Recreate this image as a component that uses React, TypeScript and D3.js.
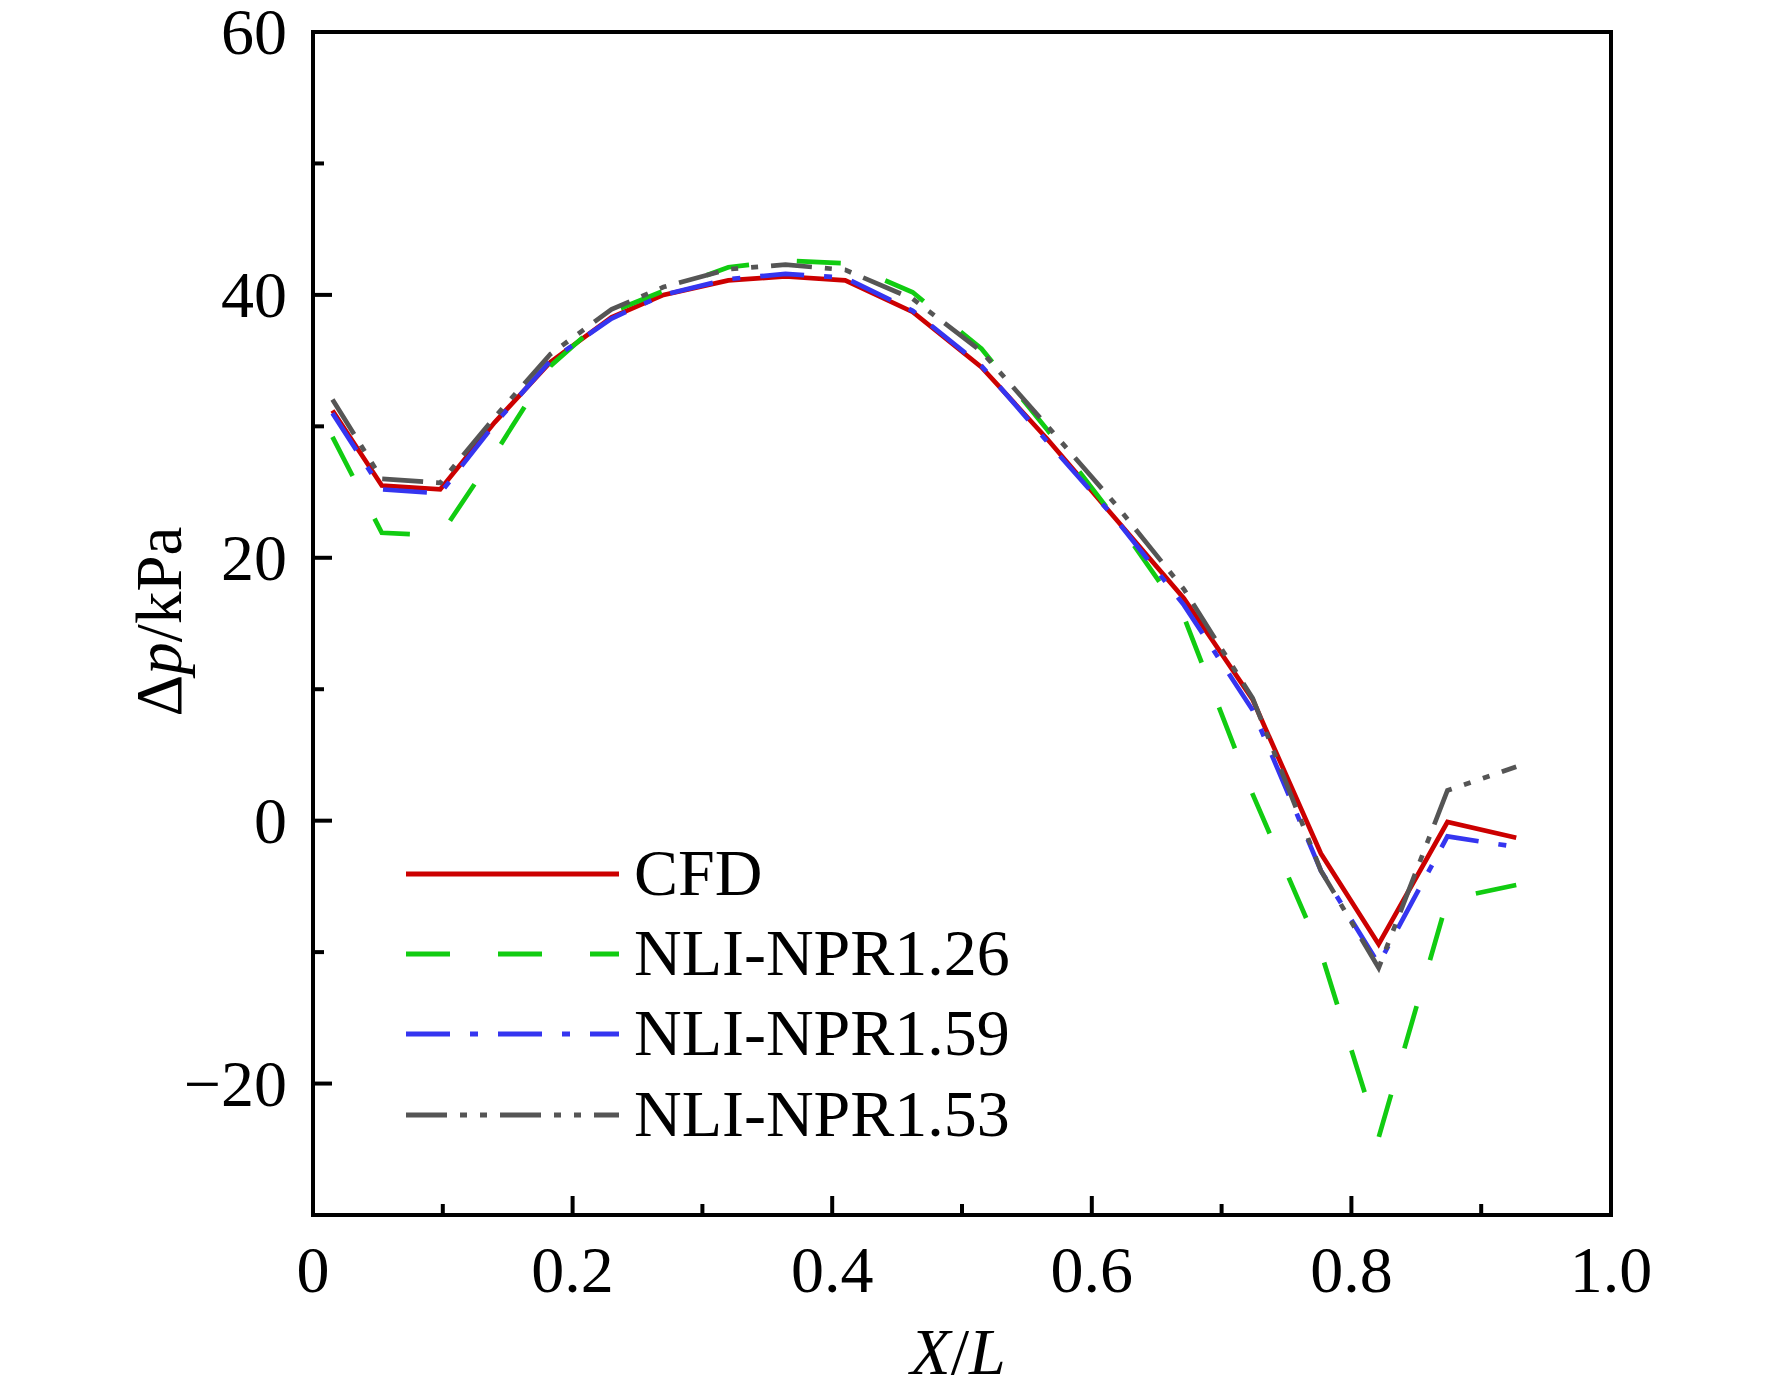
import React from "react";
import { scaleLinear, line, curveLinear } from "d3";

// X/L stations shared by all series
const xPos = [
  0.015, 0.053, 0.098, 0.14, 0.183, 0.23, 0.27, 0.32, 0.364, 0.41, 0.462,
  0.515, 0.566, 0.618, 0.671, 0.724, 0.7765, 0.821, 0.874, 0.927,
];

const cfd = [
  31.2, 25.5, 25.2, 30.3, 34.9, 38.3, 40.0, 41.1, 41.4, 41.1, 38.7, 34.5,
  29.0, 23.0, 16.9, 9.2, -2.5, -9.4, -0.1, -1.3,
];
const npr126 = [
  29.2, 21.9, 21.7, 27.9, 34.6, 38.7, 40.3, 42.1, 42.6, 42.4, 40.2, 35.9,
  29.7, 23.0, 15.5, 2.0, -10.0, -24.1, -6.0, -4.9,
];
const npr159 = [
  31.0, 25.2, 24.9, 30.2, 35.0, 38.2, 40.0, 41.2, 41.6, 41.3, 38.8, 34.6,
  28.8, 23.0, 16.4, 8.4, -3.8, -10.9, -1.2, -2.0,
];
const npr153 = [
  32.05, 26.0, 25.7, 30.7, 35.5, 38.9, 40.6, 41.95, 42.3, 41.9, 39.7, 35.7,
  30.0, 24.1, 17.6, 9.3, -3.8, -11.2, 2.3, 4.1,
];

const xTicks = [0, 0.2, 0.4, 0.6, 0.8, 1.0];
const xTickLabels = ["0", "0.2", "0.4", "0.6", "0.8", "1.0"];
const xMinorTicks = [0.1, 0.3, 0.5, 0.7, 0.9];
const yTicks = [-20, 0, 20, 40, 60];
const yTickLabels = ["\u221220", "0", "20", "40", "60"];
const yMinorTicks = [-10, 10, 30, 50];

const series = [
  { name: "CFD", values: cfd, color: "#cc0000", dash: "none" },
  { name: "NLI-NPR1.26", values: npr126, color: "#11cc11", dash: "44 48" },
  { name: "NLI-NPR1.59", values: npr159, color: "#3535f0", dash: "44 20 8 20" },
  { name: "NLI-NPR1.53", values: npr153, color: "#555555", dash: "41 13 7 13 7 13" },
];

const W = 1772;
const H = 1394;
const left = 313;
const right = 1611;
const top = 32;
const bottom = 1215;
const font = "'Liberation Serif', 'Times New Roman', serif";

export default function App() {
  const x = scaleLinear().domain([0, 1]).range([left, right]);
  const y = scaleLinear().domain([-30, 60]).range([bottom, top]);

  const path = line<number>()
    .x((_, i) => x(xPos[i]))
    .y((d) => y(d))
    .curve(curveLinear);

  const legendY = [874, 954, 1034, 1115];

  return (
    <div style={{ position: "absolute", left: 0, top: 0, background: "#fff" }}>
      <svg width={W} height={H} viewBox={`0 0 ${W} ${H}`} style={{ display: "block" }}>
        <rect width={W} height={H} fill="#fff" />
        <defs>
          <clipPath id="plot">
            <rect x={left} y={top} width={right - left} height={bottom - top} />
          </clipPath>
        </defs>

        {/* series */}
        <g clipPath="url(#plot)" fill="none">
          {series.map((s) => (
            <path
              key={s.name}
              d={path(s.values) ?? ""}
              stroke={s.color}
              strokeWidth={4.7}
              strokeDasharray={s.dash}
              strokeLinejoin="miter"
            />
          ))}
        </g>

        {/* ticks (inward) */}
        <g stroke="#000" strokeWidth={4}>
          {yTicks.map((t) => (
            <line key={"ym" + t} x1={left} x2={left + 19} y1={y(t)} y2={y(t)} />
          ))}
          {yMinorTicks.map((t) => (
            <line key={"yn" + t} x1={left} x2={left + 11} y1={y(t)} y2={y(t)} />
          ))}
          {xTicks.map((t) => (
            <line key={"xm" + t} x1={x(t)} x2={x(t)} y1={bottom} y2={bottom - 19} />
          ))}
          {xMinorTicks.map((t) => (
            <line key={"xn" + t} x1={x(t)} x2={x(t)} y1={bottom} y2={bottom - 11} />
          ))}
        </g>

        {/* frame */}
        <rect
          x={left}
          y={top}
          width={right - left}
          height={bottom - top}
          fill="none"
          stroke="#000"
          strokeWidth={4}
        />

        {/* tick labels */}
        <g fontFamily={font} fontSize={66} fill="#000">
          {yTicks.map((t, i) => (
            <text key={"yl" + t} x={left - 26} y={y(t) + 22} textAnchor="end">
              {yTickLabels[i]}
            </text>
          ))}
          {xTicks.map((t, i) => (
            <text key={"xl" + t} x={x(t)} y={1292} textAnchor="middle">
              {xTickLabels[i]}
            </text>
          ))}
        </g>

        {/* axis titles */}
        <text
          x={(left + right) / 2 - 4}
          y={1374}
          textAnchor="middle"
          fontFamily={font}
          fontSize={66}
        >
          <tspan fontStyle="italic">X</tspan>
          <tspan>/</tspan>
          <tspan fontStyle="italic">L</tspan>
        </text>
        <text
          transform={`translate(181, ${(top + bottom) / 2 - 2}) rotate(-90)`}
          textAnchor="middle"
          fontFamily={font}
          fontSize={65}
        >
          <tspan>Δ</tspan>
          <tspan fontStyle="italic">p</tspan>
          <tspan>/kPa</tspan>
        </text>

        {/* legend */}
        <g>
          {series.map((s, i) => (
            <g key={"lg" + s.name}>
              <line
                x1={406}
                x2={619}
                y1={legendY[i]}
                y2={legendY[i]}
                stroke={s.color}
                strokeWidth={5}
                strokeDasharray={s.dash}
              />
              <text
                x={634}
                y={legendY[i] + 21}
                fontFamily={font}
                fontSize={66}
                fill="#000"
              >
                {s.name}
              </text>
            </g>
          ))}
        </g>
      </svg>
    </div>
  );
}
